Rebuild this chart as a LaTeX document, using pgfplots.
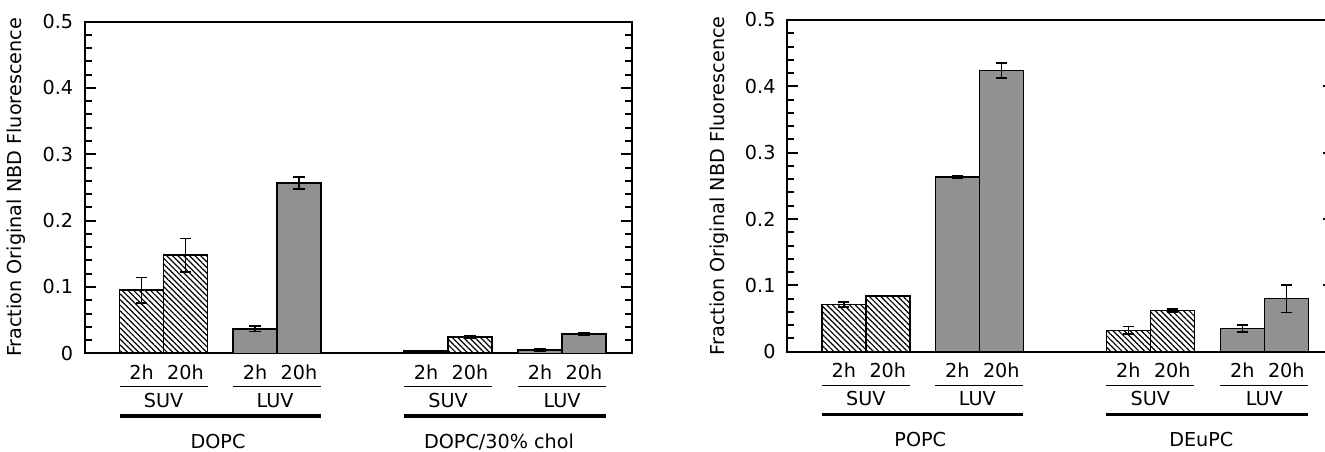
\documentclass[border=0pt]{standalone}
\usepackage{pgfplots}
\pgfplotsset{compat=1.18}
\usepackage{fontspec}
\setmainfont{DejaVu Sans}
\usetikzlibrary{patterns.meta}
\definecolor{luvgray}{RGB}{145,145,145}
\tikzset{lbl/.style={anchor=base, inner sep=0pt}}

\pgfplotsset{
  panel/.style={
    scale only axis, width=273.5pt, height=165.85pt,
    xmin=0, xmax=547, ymin=0, ymax=0.5,
    ytick={0,0.1,0.2,0.3,0.4,0.5},
    minor y tick num=4,
    major tick length=5.5pt, minor tick length=3.3pt,
    tick style={line width=1pt, black},
    axis line style={line width=1.1pt},
    xtick=\empty,
    yticklabel style={xshift=-2.5pt},
    /pgf/number format/assume math mode=true,
    ylabel={Fraction Original NBD Fluorescence},
    ylabel style={at={(axis description cs:-0.1249,0.5)}, anchor=center},
    clip=false,
  },
  suv/.style={ybar, bar width=44, bar shift=0pt, draw=black, line width=0.8pt,
    pattern={Lines[angle=-45,distance=2pt,line width=0.6pt]},
    error bars/.cd, y dir=both, y explicit,
    error bar style={line width=0.8pt, black, solid},
    error mark options={rotate=90, mark size=2.8pt, line width=0.8pt, black}},
  luv/.style={ybar, bar width=44, bar shift=0pt, draw=black, line width=0.8pt,
    fill=luvgray,
    error bars/.cd, y dir=both, y explicit,
    error bar style={line width=0.8pt, black, solid},
    error mark options={rotate=90, mark size=2.8pt, line width=0.8pt, black}},
}

\newcommand{\grouplabels}[2]{%
  \node[lbl] at ([yshift=-13.1pt]axis cs:56.5,0) {2h};
  \node[lbl] at ([yshift=-13.1pt]axis cs:100.5,0) {20h};
  \node[lbl] at ([yshift=-13.1pt]axis cs:170,0) {2h};
  \node[lbl] at ([yshift=-13.1pt]axis cs:214,0) {20h};
  \node[lbl] at ([yshift=-13.1pt]axis cs:341,0) {2h};
  \node[lbl] at ([yshift=-13.1pt]axis cs:385,0) {20h};
  \node[lbl] at ([yshift=-13.1pt]axis cs:455,0) {2h};
  \node[lbl] at ([yshift=-13.1pt]axis cs:499,0) {20h};
  \draw[line width=0.6pt] ([yshift=-16.7pt]axis cs:34.5,0) -- ([yshift=-16.7pt]axis cs:122.5,0);
  \draw[line width=0.6pt] ([yshift=-16.7pt]axis cs:148,0) -- ([yshift=-16.7pt]axis cs:236,0);
  \draw[line width=0.6pt] ([yshift=-16.7pt]axis cs:319,0) -- ([yshift=-16.7pt]axis cs:407,0);
  \draw[line width=0.6pt] ([yshift=-16.7pt]axis cs:433,0) -- ([yshift=-16.7pt]axis cs:521,0);
  \node[lbl] at ([yshift=-27.1pt]axis cs:78.5,0) {SUV};
  \node[lbl] at ([yshift=-27.1pt]axis cs:190,0) {LUV};
  \node[lbl] at ([yshift=-27.1pt]axis cs:363,0) {SUV};
  \node[lbl] at ([yshift=-27.1pt]axis cs:477,0) {LUV};
  \draw[line width=1.65pt] ([yshift=-31.35pt]axis cs:34.5,0) -- ([yshift=-31.35pt]axis cs:236,0);
  \draw[line width=1.65pt] ([yshift=-31.35pt]axis cs:319,0) -- ([yshift=-31.35pt]axis cs:521,0);
  \node[lbl] at ([yshift=-47.6pt]axis cs:133,0) {#1};
  \node[lbl] at ([yshift=-47.6pt]axis cs:414,0) {#2};
}

\begin{document}
\fontsize{9.6}{11.5}\selectfont
\begin{tikzpicture}[font=\fontsize{9.6}{11.5}\selectfont]
\useasboundingbox (-42.5pt,-48.85pt) rectangle (620pt,176.65pt);
\begin{axis}[panel, at={(0pt,0pt)}, anchor=south west]
  \addplot[suv] coordinates {(56.5,0.095) +- (0,0.019) (100.5,0.148) +- (0,0.025) (341,0.0035) +- (0,0.001) (385,0.025) +- (0,0.002)};
  \addplot[luv] coordinates {(170,0.037) +- (0,0.004) (214,0.257) +- (0,0.009) (455,0.005) +- (0,0.0015) (499,0.029) +- (0,0.002)};
  \grouplabels{DOPC}{DOPC/30\% chol}
\end{axis}
\begin{axis}[panel, at={(351.15pt,0.8pt)}, anchor=south west]
  \addplot[suv] coordinates {(56.5,0.071) +- (0,0.0035) (100.5,0.084) +- (0,0.0005) (341,0.032) +- (0,0.0057) (385,0.062) +- (0,0.0025)};
  \addplot[luv] coordinates {(170,0.263) +- (0,0.0015) (214,0.424) +- (0,0.0115) (455,0.035) +- (0,0.005) (499,0.080) +- (0,0.021)};
  \grouplabels{POPC}{DEuPC}
\end{axis}
\end{tikzpicture}
\end{document}
